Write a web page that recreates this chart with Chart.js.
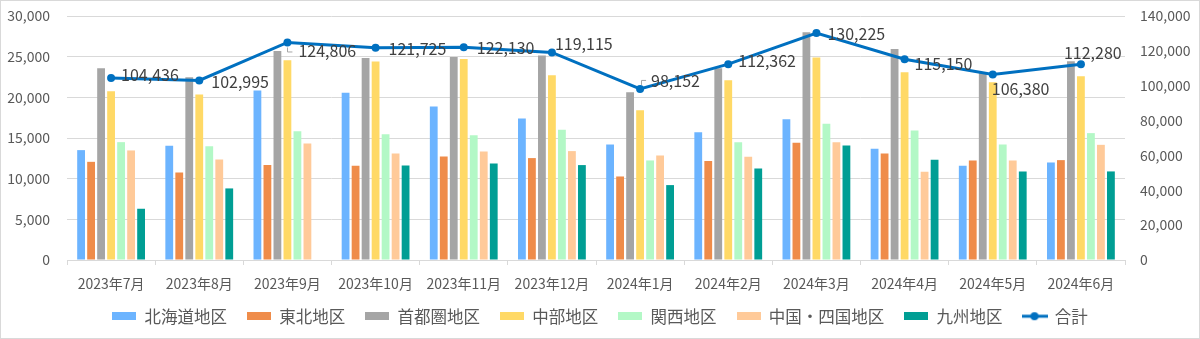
<!DOCTYPE html>
<html>
<head>
<meta charset="utf-8">
<script src="https://cdn.jsdelivr.net/npm/chart.js@4.4.1/dist/chart.umd.min.js"></script>
<style>
html, body { margin: 0; padding: 0; background: #fff; }
#wrap { width: 1200px; height: 339px; position: relative; }
</style>
</head>
<body>
<div id="wrap"><canvas id="canvas1"></canvas></div>
<script>
var months = ["2023年7月", "2023年8月", "2023年9月", "2023年10月", "2023年11月", "2023年12月",
              "2024年1月", "2024年2月", "2024年3月", "2024年4月", "2024年5月", "2024年6月"];
var hokkaido       = [13510, 14040, 20840, 20550, 18870, 17400, 14200, 15720, 17310, 13670, 11580, 11990];
var tohoku         = [12070, 10770, 11670, 11580, 12730, 12530, 10270, 12160, 14410, 13100, 12240, 12280];
var shutoken       = [23580, 22470, 25710, 24850, 24970, 25130, 20630, 23580, 28000, 25950, 23090, 24440];
var chubu          = [20750, 20340, 24560, 24400, 24720, 22720, 18420, 22100, 24890, 23090, 21860, 22600];
var kansai         = [14490, 14000, 15840, 15470, 15350, 16000, 12240, 14490, 16740, 15920, 14200, 15600];
var chugokuShikoku = [13470, 12360, 14330, 13100, 13340, 13390, 12850, 12690, 14490, 10850, 12240, 14160];
var kyushu         = [6300, 8800, null, 11630, 11870, 11670, 9210, 11260, 14080, 12320, 10890, 10890];
var total          = [104436, 102995, 124806, 121725, 122130, 119115, 98152, 112362, 130225, 115150, 106380, 112280];

var FONT = "'Noto Sans CJK JP', 'Noto Sans', sans-serif";
Chart.defaults.font.family = FONT;

function fmt(v) { return Number(v).toLocaleString('en-US'); }

// small canvases used as legend markers
function rectMarker(color) {
    var c = document.createElement('canvas');
    c.width = 24; c.height = 8;
    var g = c.getContext('2d');
    g.fillStyle = color;
    g.fillRect(0, 0, 24, 8);
    return c;
}
function lineMarker(color) {
    var c = document.createElement('canvas');
    c.width = 26; c.height = 10;
    var g = c.getContext('2d');
    g.strokeStyle = color; g.lineWidth = 3;
    g.beginPath(); g.moveTo(0, 5); g.lineTo(26, 5); g.stroke();
    g.fillStyle = color;
    g.beginPath(); g.arc(13, 5, 4, 0, Math.PI * 2); g.fill();
    return c;
}

function bar(label, data, color) {
    return {
        type: 'bar', label: label, data: data, backgroundColor: color,
        yAxisID: 'y', order: 1,
        categoryPercentage: 0.794, barPercentage: 0.78
    };
}

var frame = {
    id: 'frame',
    beforeDraw: function(chart) {
        var c = chart.ctx;
        c.save();
        c.fillStyle = '#ffffff';
        c.fillRect(0, 0, chart.width, chart.height);
        c.strokeStyle = '#d9d9d9';
        c.lineWidth = 1;
        c.strokeRect(0.5, 0.5, chart.width - 1, chart.height - 1);
        c.restore();
    }
};

// legend: fixed height, then pinned so its text sits where the original has it
var legendFit = {
    id: 'legendFit',
    beforeInit: function(chart) {
        var fit = chart.legend.fit;
        chart.legend.fit = function() { fit.call(this); this.height = 46; };
    },
    afterLayout: function(chart) {
        chart.legend.top = 288;
        chart.legend.bottom = 339;
    }
};

var totalLabels = {
    id: 'totalLabels',
    afterDatasetsDraw: function(chart, args, opts) {
        var c = chart.ctx;
        var meta = chart.getDatasetMeta(7);
        c.save();
        c.font = '16px ' + FONT;
        c.fillStyle = '#404040';
        c.textAlign = 'left';
        c.textBaseline = 'middle';
        meta.data.forEach(function(pt, i) {
            var off = opts.offsets[i];
            c.fillText(fmt(total[i]), pt.x + off[0], pt.y + off[1]);
        });
        // leader lines
        c.strokeStyle = '#a6a6a6';
        c.lineWidth = 1;
        var s = meta.data[2];
        c.beginPath();
        c.moveTo(Math.round(s.x) + 0.5, s.y + 5); c.lineTo(Math.round(s.x) + 0.5, s.y + 9.5); c.lineTo(s.x + 5, s.y + 9.5);
        c.stroke();
        var j = meta.data[6];
        c.beginPath();
        c.moveTo(Math.round(j.x) + 1.5, j.y - 4); c.lineTo(Math.round(j.x) + 1.5, j.y - 8.5); c.lineTo(j.x + 6, j.y - 8.5);
        c.stroke();
        c.restore();
    }
};

new Chart(document.getElementById('canvas1'), {
    data: {
        labels: months,
        datasets: [
            bar('北海道地区', hokkaido, '#6cb4ff'),
            bar('東北地区', tohoku, '#ef8c4a'),
            bar('首都圏地区', shutoken, '#a5a5a5'),
            bar('中部地区', chubu, '#ffd966'),
            bar('関西地区', kansai, '#b3f8c6'),
            bar('中国・四国地区', chugokuShikoku, '#ffca99'),
            bar('九州地区', kyushu, '#009e94'),
            {
                type: 'line', label: '合計', data: total, yAxisID: 'y1', order: 0,
                borderColor: '#0070c0', backgroundColor: '#0070c0', borderWidth: 3,
                pointRadius: 4, pointBackgroundColor: '#0070c0', pointBorderWidth: 0,
                tension: 0, fill: false
            }
        ]
    },
    plugins: [frame, legendFit, totalLabels],
    options: {
        responsive: true,
        maintainAspectRatio: false,
        animation: false,
        layout: { padding: { top: 16, left: 0, right: 0, bottom: 0 } },
        scales: {
            x: {
                grid: { display: true, drawOnChartArea: false, drawTicks: true, tickLength: 5, color: '#d9d9d9', offset: true },
                border: { display: true, color: '#d9d9d9' },
                ticks: { color: '#595959', font: { size: 14 }, padding: 10, maxRotation: 0, autoSkip: false },
                afterFit: function(s) { s.height = 33; }
            },
            y: {
                position: 'left', min: 0, max: 30000,
                grid: { color: '#d9d9d9', drawTicks: false },
                border: { display: false },
                ticks: { stepSize: 5000, color: '#595959', font: { size: 14 }, padding: 17, callback: fmt },
                afterFit: function(s) { s.width = 67; s.paddingTop = 0; s.paddingBottom = 0; }
            },
            y1: {
                position: 'right', min: 0, max: 140000,
                grid: { display: false, drawTicks: false },
                border: { display: false },
                ticks: { stepSize: 20000, color: '#595959', font: { size: 14 }, padding: 15, callback: fmt },
                afterFit: function(s) { s.width = 75; s.paddingTop = 0; s.paddingBottom = 0; }
            }
        },
        plugins: {
            legend: {
                position: 'bottom',
                labels: {
                    usePointStyle: true,
                    pointStyleWidth: 24,
                    boxHeight: 8,
                    padding: 20,
                    color: '#595959',
                    font: { size: 16.5 },
                    generateLabels: function(chart) {
                        return chart.data.datasets.map(function(ds, i) {
                            return {
                                text: ds.label,
                                fillStyle: ds.backgroundColor,
                                strokeStyle: ds.backgroundColor,
                                lineWidth: 0,
                                pointStyle: ds.type === 'line' ? lineMarker(ds.borderColor) : rectMarker(ds.backgroundColor),
                                datasetIndex: i,
                                fontColor: '#595959'
                            };
                        });
                    }
                }
            },
            tooltip: { enabled: false },
            totalLabels: {
                offsets: [[10, -3], [12, 1], [11, 8], [13, 1], [13, 1], [3, -8],
                          [11, -8], [10, -3], [11, 1], [10, 5], [-1, 14], [-17, -11]]
            }
        }
    }
});
</script>
</body>
</html>
